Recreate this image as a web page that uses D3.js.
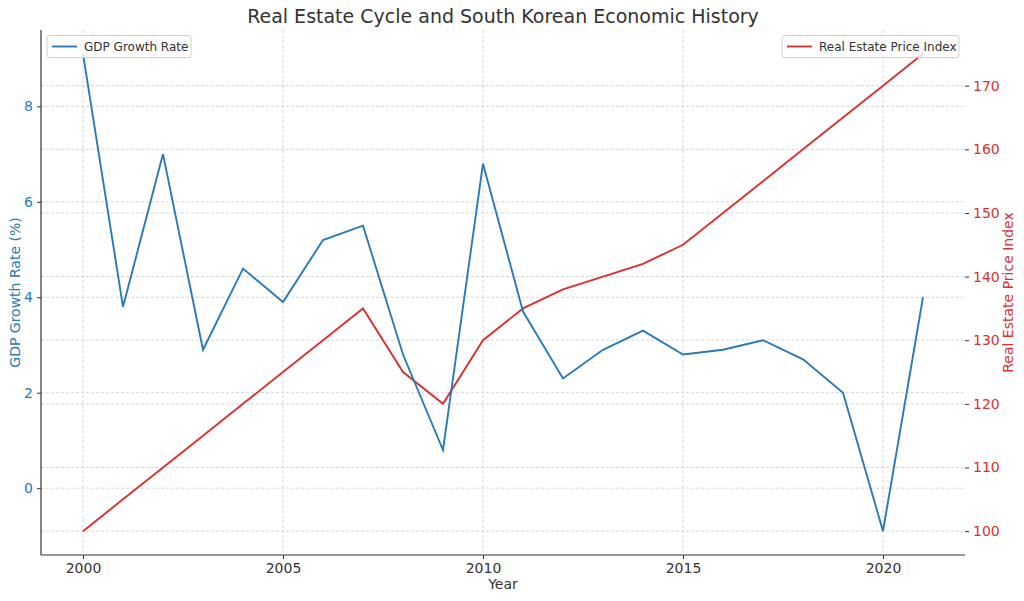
<!DOCTYPE html>
<html><head><meta charset="utf-8">
<script src="https://cdn.jsdelivr.net/npm/d3@7"></script>
<style>body{margin:0;background:#fff;font-family:"DejaVu Sans",sans-serif;}</style>
</head><body><svg id="c" width="1024" height="601"></svg>
<script>
const years = [2000,2001,2002,2003,2004,2005,2006,2007,2008,2009,2010,2011,2012,2013,2014,2015,2016,2017,2018,2019,2020,2021];
const gdpGrowth = [9.1,3.8,7.0,2.9,4.6,3.9,5.2,5.5,2.8,0.8,6.8,3.7,2.3,2.9,3.3,2.8,2.9,3.1,2.7,2.0,-0.9,4.0];
const priceIndex = [100,105,110,115,120,125,130,135,125,120,130,135,138,140,142,145,150,155,160,165,170,175];
const xTicks = [2000,2005,2010,2015,2020];
const gdpTicks = [0,2,4,6,8];
const priceTicks = [100,110,120,130,140,150,160,170];

const blue = "#2a7ab8", red = "#d83131", txt = "#333";
const L = 41, R = 965, T = 30, B = 555;
const svg = d3.select("#c");

const x = d3.scaleLinear().domain([2000 - 1.05, 2021 + 1.05]).range([L, R]);
const yL = d3.scaleLinear().domain([-0.9 - 0.5, 9.1 + 0.5]).range([B, T]);
const yR = d3.scaleLinear().domain([100 - 3.75, 175 + 3.75]).range([B, T]);

const grid = svg.append("g").attr("stroke", "#ccc").attr("stroke-width", 0.8).attr("stroke-dasharray", "3,2");
xTicks.forEach(t => grid.append("line").attr("x1", x(t)).attr("x2", x(t)).attr("y1", T).attr("y2", B));
gdpTicks.forEach(t => grid.append("line").attr("x1", L).attr("x2", R).attr("y1", yL(t)).attr("y2", yL(t)));
priceTicks.forEach(t => grid.append("line").attr("x1", L).attr("x2", R).attr("y1", yR(t)).attr("y2", yR(t)));

// lines
svg.append("path").datum(priceIndex).attr("fill", "none").attr("stroke", red).attr("stroke-width", 1.9)
  .attr("d", d3.line().x((d, i) => x(years[i])).y(d => yR(d)));
svg.append("path").datum(gdpGrowth).attr("fill", "none").attr("stroke", blue).attr("stroke-width", 1.9)
  .attr("d", d3.line().x((d, i) => x(years[i])).y(d => yL(d)));

// axes
const ax = svg.append("g").attr("transform", `translate(0,${B})`)
  .call(d3.axisBottom(x).tickValues(xTicks).tickFormat(d3.format("d")).tickSizeOuter(0).tickSize(4).tickPadding(4));
const al = svg.append("g").attr("transform", `translate(${L},0)`)
  .call(d3.axisLeft(yL).tickValues(gdpTicks).tickSizeOuter(0).tickSize(4).tickPadding(4));
const ar = svg.append("g").attr("transform", `translate(${R},0)`)
  .call(d3.axisRight(yR).tickValues(priceTicks).tickSizeOuter(0).tickSize(4).tickPadding(4));
[ax, al, ar].forEach(g => {
  g.selectAll("text").attr("font-size", 14).attr("font-family", "DejaVu Sans");
  g.selectAll(".tick line").attr("stroke", "#333");
  g.select(".domain").remove();
});
ax.selectAll("text").attr("fill", txt);
al.selectAll("text").attr("fill", blue);
ar.selectAll("text").attr("fill", red);

// spines
svg.append("line").attr("x1", L).attr("x2", L).attr("y1", T).attr("y2", B).attr("stroke", "#333").attr("stroke-width", 1.2);
svg.append("line").attr("x1", L).attr("x2", R).attr("y1", B).attr("y2", B).attr("stroke", "#333").attr("stroke-width", 1.2);

// labels
svg.append("text").attr("x", (L + R) / 2).attr("y", 23).attr("text-anchor", "middle")
  .attr("font-size", 19).attr("fill", txt).text("Real Estate Cycle and South Korean Economic History");
svg.append("text").attr("x", (L + R) / 2).attr("y", 589).attr("text-anchor", "middle")
  .attr("font-size", 14).attr("fill", txt).text("Year");
svg.append("text").attr("transform", `translate(20,${(T + B) / 2}) rotate(-90)`).attr("text-anchor", "middle")
  .attr("font-size", 14).attr("fill", blue).text("GDP Growth Rate (%)");
svg.append("text").attr("transform", `translate(1013,${(T + B) / 2}) rotate(-90)`).attr("text-anchor", "middle")
  .attr("font-size", 14).attr("fill", red).text("Real Estate Price Index");

// legends
function legend(x0, w, color, label) {
  const g = svg.append("g");
  g.append("rect").attr("x", x0).attr("y", 35.5).attr("width", w).attr("height", 22).attr("rx", 2.5)
    .attr("fill", "white").attr("fill-opacity", 0.8).attr("stroke", "#d0d0d0");
  g.append("line").attr("x1", x0 + 5).attr("x2", x0 + 30).attr("y1", 46.5).attr("y2", 46.5).attr("stroke", color).attr("stroke-width", 1.9);
  g.append("text").attr("x", x0 + 37).attr("y", 51).attr("font-size", 12).attr("fill", txt).text(label);
}
legend(47, 144, blue, "GDP Growth Rate");
legend(782, 177, red, "Real Estate Price Index");
</script></body></html>
